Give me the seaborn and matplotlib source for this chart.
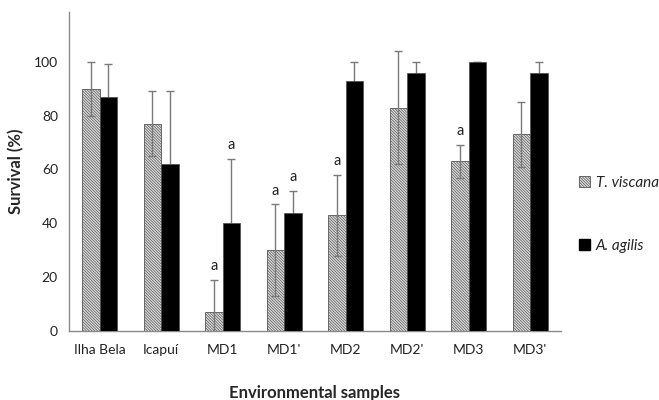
import matplotlib
matplotlib.use("Agg")
import matplotlib.pyplot as plt
import seaborn as sns
import pandas as pd
from matplotlib.patches import Patch

categories = ["Ilha Bela", "Icapuí", "MD1", "MD1'", "MD2", "MD2'", "MD3", "MD3'"]
species = ["T. viscana", "A. agilis"]
t_viscana = [90, 77, 7, 30, 43, 83, 63, 73]
t_viscana_err = [10, 12, 12, 17, 15, 21, 6, 12]
a_agilis = [87, 62, 40, 44, 93, 96, 100, 96]
a_agilis_err = [12, 27, 24, 8, 7, 4, 0, 4]
t_letters = ["", "", "a", "a", "a", "", "a", ""]
a_letters = ["", "", "a", "a", "", "", "", ""]
yticks = [0, 20, 40, 60, 80, 100]

sns.set_style("white")
plt.rcParams["font.family"] = ["Lato", "DejaVu Sans"]
plt.rcParams["hatch.linewidth"] = 0.5
plt.rcParams["hatch.color"] = "#8c8c8c"

HATCH = "\\" * 12

df = pd.DataFrame({
    "sample": categories * 2,
    "species": [species[0]] * len(categories) + [species[1]] * len(categories),
    "survival": t_viscana + a_agilis,
})

fig = plt.figure(figsize=(6.59, 4.0), dpi=100)
ax = fig.add_axes([0.1047, 0.1725, 0.851 - 0.1047, 0.97 - 0.1725])

sns.barplot(data=df, x="sample", y="survival", hue="species",
            hue_order=species, order=categories,
            palette=["#dedede", "#000000"], errorbar=None,
            width=0.57, gap=0, edgecolor="#555555", linewidth=0.6,
            legend=False, ax=ax)

cont_t, cont_a = ax.containers[0], ax.containers[1]
for p in cont_t:
    p.set_hatch(HATCH)
    p.set_zorder(2)
for p in cont_a:
    p.set_zorder(3)

xs_t = [p.get_x() + p.get_width() / 2 for p in cont_t]
xs_a = [p.get_x() + p.get_width() / 2 for p in cont_a]

ax.errorbar(xs_t, t_viscana, yerr=t_viscana_err, fmt="none",
            ecolor="#7a7a7a", elinewidth=1.0, capsize=2.6, capthick=1.0, zorder=4)
ax.errorbar(xs_a, a_agilis, yerr=a_agilis_err, fmt="none",
            ecolor="#7a7a7a", elinewidth=1.0, capsize=2.6, capthick=1.0, zorder=1)

for x, v, e, s in zip(xs_t, t_viscana, t_viscana_err, t_letters):
    if s:
        ax.annotate(s, (x, v + e), xytext=(0, 5), textcoords="offset points",
                    ha="center", va="bottom", fontsize=10.5, color="#222222")
for x, v, e, s in zip(xs_a, a_agilis, a_agilis_err, a_letters):
    if s:
        ax.annotate(s, (x, v + e), xytext=(0, 5), textcoords="offset points",
                    ha="center", va="bottom", fontsize=10.5, color="#222222")

ax.set_ylim(0, 118.5)
ax.set_xlim(-0.5, len(categories) - 0.5)
ax.set_yticks(yticks)
ax.set_yticklabels([str(t) for t in yticks], fontsize=10, color="#222222")
ax.tick_params(axis="x", labelsize=10, colors="#222222", length=0, pad=9)
ax.tick_params(axis="y", length=0, pad=8)
for side in ["top", "right"]:
    ax.spines[side].set_visible(False)
for side in ["left", "bottom"]:
    ax.spines[side].set_color("#8a8a8a")
    ax.spines[side].set_linewidth(1.0)

ax.set_ylabel("Survival (%)", fontsize=12, fontweight="bold", labelpad=7)
ax.set_xlabel("Environmental samples", fontsize=12, fontweight="bold", labelpad=21)

handles = [Patch(facecolor="#dedede", edgecolor="#555555", hatch=HATCH, linewidth=0.6),
           Patch(facecolor="#000000", edgecolor="#000000")]
leg = fig.legend(handles, [species[0], species[1]], loc="upper left",
                 bbox_to_anchor=(0.858, 0.595), frameon=False,
                 handlelength=0.7, handleheight=0.7, handletextpad=0.4,
                 labelspacing=3.2, prop={"style": "italic", "size": 11})

fig.savefig("out.png", dpi=100)
